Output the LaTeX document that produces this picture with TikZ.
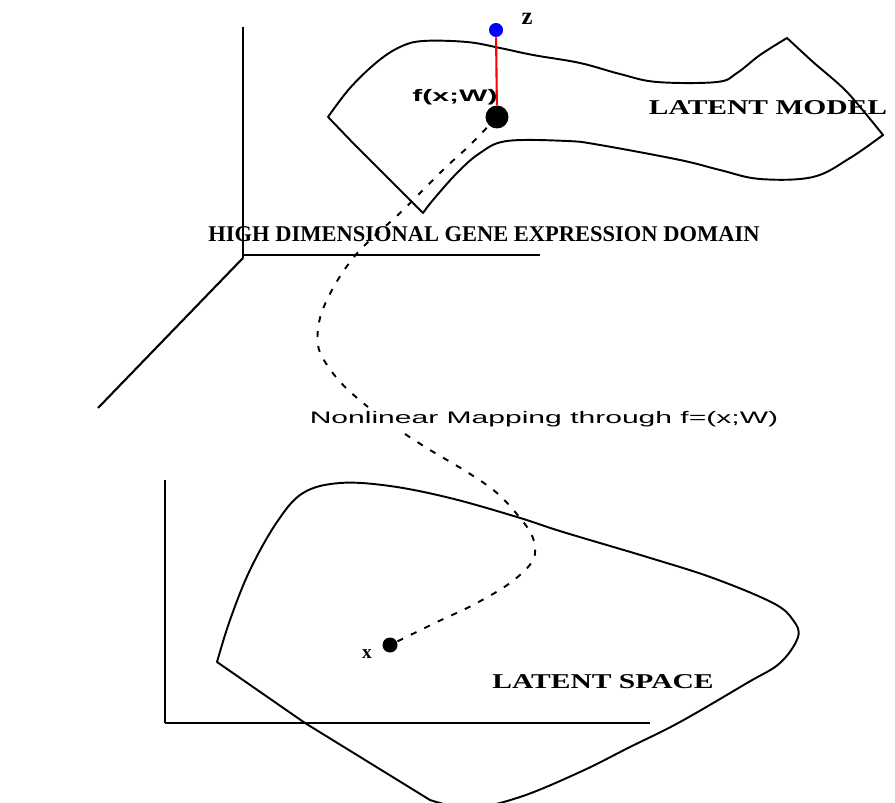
\documentclass[tikz,border=0pt]{standalone}
\usepackage{fontspec}
\usepackage{tikz}
\newfontfamily\capsfont{Liberation Serif}
\newfontfamily\widecapsfont[FakeStretch=1.4]{Liberation Serif}
\newfontfamily\mapfont[FakeStretch=1.8]{Liberation Sans}
\definecolor{zblue}{RGB}{0,0,255}
\definecolor{projred}{RGB}{255,0,0}

\begin{document}
\begin{tikzpicture}[
  x=0.02cm,
  y=-0.02cm,
  surface/.style={line width=1.1pt, line join=round},
  axis/.style={line width=1.2pt},
  mapline/.style={line width=1.1pt, dash pattern=on 3.5pt off 5pt},
  dot/.style={circle, fill=black, inner sep=0pt},
  domainlabel/.style={font=\capsfont\bfseries\fontsize{12.8}{15}\selectfont, inner sep=1pt},
  spacelabel/.style={font=\widecapsfont\bfseries\fontsize{12}{14}\selectfont, inner sep=1pt},
  maplabel/.style={font=\mapfont\fontsize{9.5}{11}\selectfont, inner sep=1pt}
]

% White background
\fill[white] (0,0) rectangle (895,803);
\useasboundingbox (0,0) rectangle (895,803);

% Axes of the gene expression domain
\draw[axis] (243,27) -- (243,258);
\draw[axis] (243,255) -- (540,255);
\draw[axis] (243,258) -- (98,408);

% Axes of the latent space
\draw[axis] (165,480) -- (165,723);
\draw[axis] (165,723) -- (650,723);

% Latent model surface
\draw[surface] plot[smooth, tension=0.6] coordinates {(328,117) (350,88) (377,62) (400,47) (423,41) (467,42) (500,48) (533,55) (580,63) (620,74) (657,82) (717,82) (737,73) (760,55) (787,38)}
  -- plot[smooth, tension=0.5] coordinates {(787,38) (813,62) (847,92) (883,135)}
  -- plot[smooth, tension=0.6] coordinates {(883,135) (850,158) (813,177) (760,179) (720,170) (680,160) (600,145) (567,141) (507,141) (480,153) (457,173) (433,200) (423,213)}
  -- (383,173) -- (353,143) -- cycle;

% Latent space region
\draw[surface] plot[smooth, tension=0.6] coordinates {(217,662) (230,620) (250,570) (277,522) (303,493) (340,483) (390,486) (450,498) (517,517) (563,532) (647,557) (713,578) (773,603) (793,620) (798,637) (780,663) (747,683) (680,722) (630,747) (580,772) (520,797) (470,808) (430,800)}
  -- (305,723) -- cycle;

% Points
\node[dot, minimum size=0.46cm] (fdot) at (497,117) {};
\node[dot, minimum size=0.3cm] (xdot) at (390,645) {};
\node[circle, fill=zblue, inner sep=0pt, minimum size=0.28cm] (zdot) at (496,30) {};

% Labels
\node[domainlabel] (domaintext) at (484,234) {HIGH DIMENSIONAL GENE EXPRESSION DOMAIN};
\node[spacelabel] (modeltext) at (768,108) {LATENT MODEL};
\node[spacelabel] (spacetext) at (603,682) {LATENT SPACE};
\node[maplabel, fill=white] (maptext) at (544,419) {Nonlinear Mapping through f=(x;W)};
\node[maplabel, font=\mapfont\bfseries\fontsize{9.5}{11}\selectfont] (ftext) at (455,97) {f(x;W)};
\node[font=\capsfont\bfseries\fontsize{11}{13}\selectfont, inner sep=0pt] (xtext) at (367,654) {x};
\node[font=\capsfont\bfseries\fontsize{14}{16}\selectfont, inner sep=0pt] (ztext) at (527,19) {z};

% Projection of z onto the model
\draw[line width=1.2pt, projred] (zdot) -- (fdot);

% Nonlinear mapping
\draw[mapline] plot[smooth, tension=0.6] coordinates {(fdot) (470,145) (443,170) (400,213) (370,240) (350,262) (332,290) (320,318) (318,345) (327,365) (345,387) (368,407)};
\draw[mapline] plot[smooth, tension=0.6] coordinates {(405,434) (430,450) (467,472) (497,493) (520,518) (533,538) (533,560) (510,583) (473,605) (437,622) (xdot)};

\end{tikzpicture}
\end{document}
